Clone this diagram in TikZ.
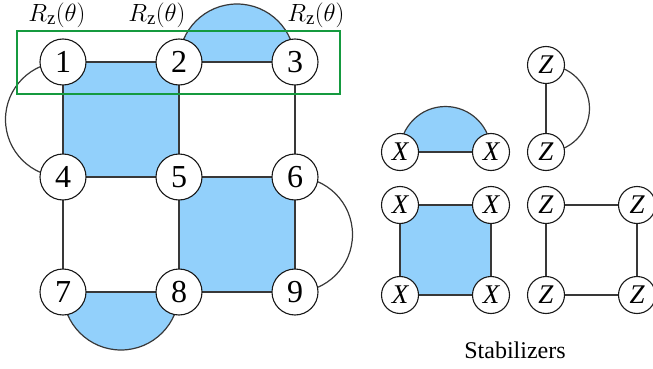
\documentclass[tikz,border=0pt]{standalone}
\usepackage{fontspec}
\setmainfont{Liberation Serif}
\definecolor{pblue}{HTML}{92D0FB}
\definecolor{pgreen}{HTML}{159A3F}
\definecolor{edgec}{HTML}{383838}
\begin{document}
\begin{tikzpicture}[x=1pt,y=-1pt,
  qb/.style={circle,draw=black!90,fill=white,line width=1.1pt,minimum size=46pt,inner sep=0pt,font=\fontsize{32}{33}\selectfont},
  st/.style={circle,draw=black!90,fill=white,line width=1.1pt,minimum size=37pt,inner sep=0pt,font=\fontsize{27}{28}\selectfont\itshape},
  edge/.style={draw=edgec,line width=1.2pt},
  plaq/.style={fill=pblue},
  rlab/.style={font=\fontsize{27}{28}\selectfont,inner sep=0pt}]
\useasboundingbox (0,0) rectangle (653,369);
% coordinates of the big lattice
\coordinate (c1) at (63,62);  \coordinate (c2) at (179,62);  \coordinate (c3) at (295,62);
\coordinate (c4) at (63,177); \coordinate (c5) at (179,177); \coordinate (c6) at (295,177);
\coordinate (c7) at (63,292); \coordinate (c8) at (179,292); \coordinate (c9) at (295,292);
% plaquettes
\fill[plaq] (c1) -- (c2) -- (c5) -- (c4) -- cycle;
\fill[plaq] (c5) -- (c6) -- (c9) -- (c8) -- cycle;
\filldraw[plaq,draw=edgec,line width=1.2pt] (c2) arc[start angle=180,end angle=360,radius=58];
\filldraw[plaq,draw=edgec,line width=1.2pt] (c7) arc[start angle=180,end angle=0,radius=58];
% boundary arcs
\draw[edge] (c1) arc[start angle=270,end angle=90,radius=57.5];
\draw[edge] (c6) arc[start angle=-90,end angle=90,radius=57.5];
% edges
\draw[edge] (c1) -- (c2) -- (c3);
\draw[edge] (c4) -- (c5) -- (c6);
\draw[edge] (c7) -- (c8) -- (c9);
\draw[edge] (c1) -- (c4) -- (c7);
\draw[edge] (c2) -- (c5) -- (c8);
\draw[edge] (c3) -- (c6) -- (c9);
% nodes
\node[qb] (n1) at (c1) {1};
\node[qb] (n2) at (c2) {2};
\node[qb] (n3) at (c3) {3};
\node[qb] (n4) at (c4) {4};
\node[qb] (n5) at (c5) {5};
\node[qb] (n6) at (c6) {6};
\node[qb] (n7) at (c7) {7};
\node[qb] (n8) at (c8) {8};
\node[qb] (n9) at (c9) {9};
% green box
\draw[pgreen,line width=1.4pt] (17,31) rectangle (340,94);
% labels
\node[rlab] (r1) at (57,15) {$R_{\mathrm{z}}(\theta)$};
\node[rlab] (r2) at (157,15) {$R_{\mathrm{z}}(\theta)$};
\node[rlab] (r3) at (316,15) {$R_{\mathrm{z}}(\theta)$};
% stabilizers
\coordinate (xa) at (400,152); \coordinate (xb) at (491,152);
\coordinate (za) at (546,65);  \coordinate (zb) at (546,152);
\coordinate (s1) at (400,205); \coordinate (s2) at (491,205);
\coordinate (s3) at (400,295); \coordinate (s4) at (491,295);
\coordinate (t1) at (546,205); \coordinate (t2) at (637,205);
\coordinate (t3) at (546,295); \coordinate (t4) at (637,295);
\filldraw[plaq,draw=edgec,line width=1.2pt] (xa) arc[start angle=180,end angle=360,radius=45.5];
\draw[edge] (za) arc[start angle=-90,end angle=90,radius=43.5];
\fill[plaq] (s1) -- (s2) -- (s4) -- (s3) -- cycle;
\draw[edge] (xa) -- (xb);
\draw[edge] (za) -- (zb);
\draw[edge] (s1) -- (s2) -- (s4) -- (s3) -- cycle;
\draw[edge] (t1) -- (t2) -- (t4) -- (t3) -- cycle;
\node[st] (nxa) at (xa) {X};
\node[st] (nxb) at (xb) {X};
\node[st] (nza) at (za) {Z};
\node[st] (nzb) at (zb) {Z};
\node[st] (ns1) at (s1) {X};
\node[st] (ns2) at (s2) {X};
\node[st] (ns3) at (s3) {X};
\node[st] (ns4) at (s4) {X};
\node[st] (nt1) at (t1) {Z};
\node[st] (nt2) at (t2) {Z};
\node[st] (nt3) at (t3) {Z};
\node[st] (nt4) at (t4) {Z};
\node[font=\fontsize{24}{25}\selectfont,inner sep=0pt] (stab) at (515,350) {Stabilizers};
\end{tikzpicture}
\end{document}
